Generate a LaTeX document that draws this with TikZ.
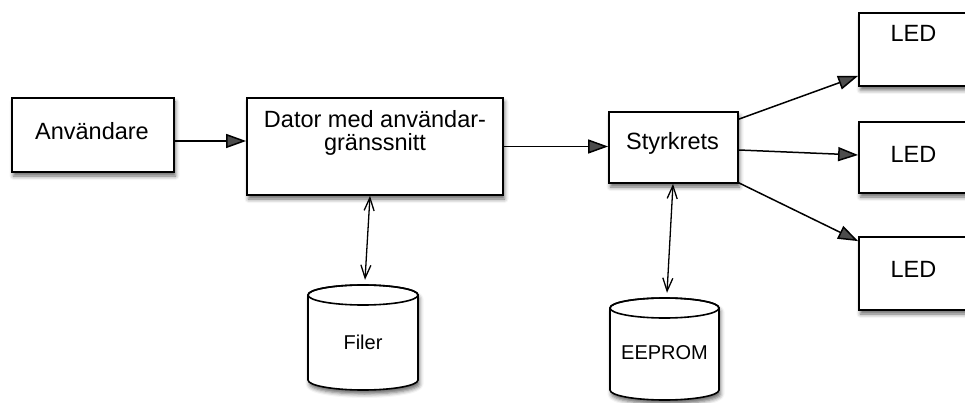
\documentclass[tikz,border=0pt]{standalone}
\usepackage{fontspec}
\setmainfont{Liberation Sans}
\usetikzlibrary{arrows.meta,shadows.blur,calc}
\begin{document}
\begin{tikzpicture}[x=1pt,y=-1pt,
  box/.style={draw, line width=1.8pt, fill=white, rectangle, inner sep=0pt,
    blur shadow={shadow xshift=1.5pt, shadow yshift=-4pt, shadow blur radius=4pt, shadow opacity=60}},
  cyl/.style={draw, line width=1.6pt, fill=white,
    blur shadow={shadow xshift=1.5pt, shadow yshift=-4pt, shadow blur radius=4pt, shadow opacity=60}},
  lbl/.style={font=\fontsize{23.5}{23.5}\selectfont, inner sep=0pt, anchor=base},
  small/.style={font=\fontsize{20}{20}\selectfont, inner sep=0pt},
  mainarrow/.style={line width=1.5pt, -{Triangle[length=20pt,width=14pt]}},
  dblarrow/.style={line width=1.3pt, {Straight Barb[length=13pt,width=10pt]}-{Straight Barb[length=13pt,width=10pt]}}
]
\useasboundingbox (0,0) rectangle (965,403);

% boxes
\node[box, minimum width=162pt, minimum height=74pt] (user) at (93,135) {};
\node[box, minimum width=256pt, minimum height=97pt] (dator) at (375,146.5) {};
\node[box, minimum width=129pt, minimum height=71pt] (styr) at (673.5,147.5) {};
\node[box, minimum width=150pt, minimum height=73pt] (led1) at (934,49.5) {};
\node[box, minimum width=150pt, minimum height=71pt] (led2) at (934,157.5) {};
\node[box, minimum width=150pt, minimum height=73pt] (led3) at (934,273.5) {};

% cylinders
\draw[cyl] (308,295) -- (308,380) arc[start angle=180, end angle=0, x radius=55, y radius=10]
  -- (418,295) arc[start angle=0, end angle=-180, x radius=55, y radius=10] -- cycle;
\draw[line width=1.6pt] (363,295) ellipse [x radius=55, y radius=10];
\node[small, minimum width=110pt, minimum height=105pt] (filer) at (363,337.5) {};
\node[small] (filertext) at (363,342) {Filer};

\draw[cyl] (610,308) -- (610,390) arc[start angle=180, end angle=0, x radius=54.5, y radius=10]
  -- (719,308) arc[start angle=0, end angle=-180, x radius=54.5, y radius=10] -- cycle;
\draw[line width=1.6pt] (664.5,308) ellipse [x radius=54.5, y radius=10];
\node[small, minimum width=109pt, minimum height=102pt] (eeprom) at (664.5,349) {};
\node[small] (eepromtext) at (664.5,353) {EEPROM};

% texts
\node[lbl] (usertext) at (92,140) {Användare};
\node[lbl, align=center] (datortext) at (375,151) {Dator med användar-\\gränssnitt};
\node[lbl] (styrtext) at (672.5,150) {Styrkrets};
\node[lbl] (led1text) at (913.5,42) {LED};
\node[lbl] (led2text) at (913.5,163) {LED};
\node[lbl] (led3text) at (913.5,277) {LED};

% connectors
\draw[mainarrow] ([yshift=-6pt]user.east) -- ([yshift=5.5pt]dator.west);
\draw[mainarrow] (dator.east) -- ([yshift=1pt]styr.west);
\draw[mainarrow] ([yshift=-8pt]styr.north east) -- ([yshift=11pt]led1.south west);
\draw[mainarrow] ([yshift=-2.5pt]styr.east) -- ([yshift=2.5pt]led2.west);
\draw[mainarrow] ([yshift=1pt]styr.south east) -- ([yshift=-5pt]led3.north west);
\draw[dblarrow] ([xshift=-5pt]dator.south) -- ([xshift=2pt,yshift=5pt]filer.north);
\draw[dblarrow] ([xshift=-0.5pt]styr.south) -- ([xshift=2.5pt,yshift=5pt]eeprom.north);
\end{tikzpicture}
\end{document}
